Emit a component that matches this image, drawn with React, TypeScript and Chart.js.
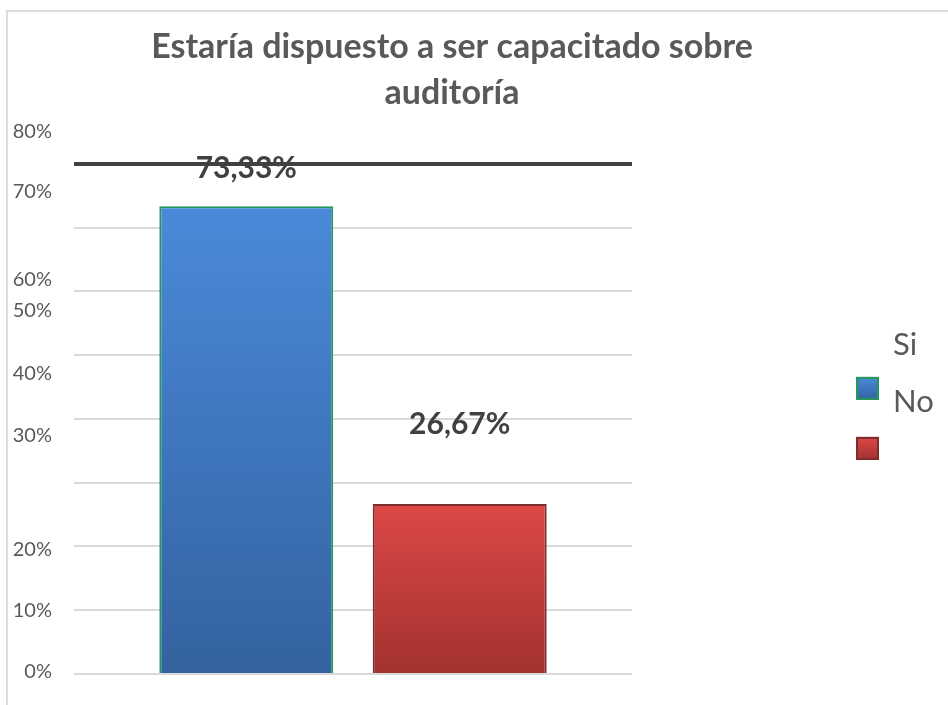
import React, { useEffect, useRef } from "react";
import { Chart, registerables } from "chart.js";

Chart.register(...registerables);

// ---- data ----
const CATEGORIES = [""];
const SERIES_LABELS = ["Si", "No"];
const SERIES_VALUES = [73.33, 26.67];
const Y_MIN = 0;
const Y_MAX = 80;
const Y_STEP = 10;
const TITLE_LINES = ["Estaría dispuesto a ser capacitado sobre", "auditoría"];

// ---- styles ----
const FONT = "Lato, 'Open Sans', sans-serif";
const SERIES_COLORS = [
  { top: "#4a8ad9", bottom: "#3462a0", border: "#24985a" },
  { top: "#dc4846", bottom: "#a2322f", border: "#7d2c2a" },
];
const TICK_SHIFTS = [-2, 0, 3, -47, -45, -45, -12, -36, -32];
const LABEL_LIFT = [38, 80];

const fmtPct = (v: number) => v.toFixed(2).replace(".", ",") + "%";

function barGradient(ctx: CanvasRenderingContext2D, top: number, bottom: number, i: number) {
  const c = SERIES_COLORS[i];
  const g = ctx.createLinearGradient(0, top, 0, bottom);
  g.addColorStop(0, c.top);
  g.addColorStop(1, c.bottom);
  return g;
}

const overlayPlugin = {
  id: "overlay",
  afterDraw(chart: any) {
    const ctx: CanvasRenderingContext2D = chart.ctx;
    const area = chart.chartArea;
    const y = chart.scales.y;
    ctx.save();
    // y tick labels
    ctx.font = `20px ${FONT}`;
    ctx.fillStyle = "#595959";
    ctx.textAlign = "right";
    ctx.textBaseline = "middle";
    y.ticks.forEach((t: any, i: number) => {
      ctx.fillText(`${t.value}%`, area.left - 22, y.getPixelForValue(t.value) + (TICK_SHIFTS[i] || 0));
    });
    // data labels
    ctx.font = `bold 30px ${FONT}`;
    ctx.fillStyle = "#404040";
    ctx.textAlign = "center";
    chart.data.datasets.forEach((ds: any, i: number) => {
      const el = chart.getDatasetMeta(i).data[0];
      if (!el) return;
      ctx.fillText(fmtPct(ds.data[0]), el.x, el.y - LABEL_LIFT[i]);
    });
    // legend
    const cy = (area.top + area.bottom) / 2;
    const bx = area.right + 224;
    const tx = area.right + 261;
    chart.data.datasets.forEach((ds: any, i: number) => {
      const by = cy - 42 + 60 * i;
      const size = 23;
      ctx.fillStyle = barGradient(ctx, by, by + size, i);
      ctx.fillRect(bx, by, size, size);
      ctx.lineWidth = 2;
      ctx.strokeStyle = SERIES_COLORS[i].border;
      ctx.strokeRect(bx + 1, by + 1, size - 2, size - 2);
      ctx.font = `31px ${FONT}`;
      ctx.fillStyle = "#595959";
      ctx.textAlign = "left";
      ctx.textBaseline = "middle";
      ctx.fillText(ds.label, tx, cy - 74 + 57 * i);
    });
    ctx.restore();
  },
};

export default function App() {
  const ref = useRef<HTMLCanvasElement>(null);
  useEffect(() => {
    if (!ref.current) return;
    const chart = new Chart(ref.current, {
      type: "bar",
      data: {
        labels: CATEGORIES,
        datasets: SERIES_LABELS.map((label, i) => ({
          label,
          data: [SERIES_VALUES[i]],
          backgroundColor: (c: any) => {
            const ch = c.chart;
            const ys = ch.scales && ch.scales.y;
            if (!ys || !ch.chartArea) return SERIES_COLORS[i].top;
            const top = ys.getPixelForValue(c.raw ?? SERIES_VALUES[i]);
            const bottom = ys.getPixelForValue(0);
            return barGradient(ch.ctx, top, bottom, i);
          },
          borderColor: SERIES_COLORS[i].border,
          borderWidth: 2,
          categoryPercentage: 0.765,
          barPercentage: 0.815,
        })),
      },
      options: {
        animation: false,
        responsive: false,
        layout: { padding: { top: 0, bottom: 31, left: 0, right: 52 } },
        plugins: {
          legend: { display: false },
          tooltip: { enabled: false },
          title: {
            display: true,
            text: TITLE_LINES,
            color: "#595959",
            font: { family: FONT, size: 34, weight: "bold", lineHeight: 1.35 },
            padding: { top: 12, bottom: 48 },
          },
        },
        scales: {
          x: { display: false },
          y: {
            min: Y_MIN,
            max: Y_MAX,
            ticks: { stepSize: Y_STEP, display: false },
            border: { display: false },
            grid: {
              drawTicks: false,
              color: (c: any) => (c.tick && c.tick.value === Y_MAX ? "#404040" : "#d9d9d9"),
              lineWidth: (c: any) => (c.tick && c.tick.value === Y_MAX ? 4 : 2),
            },
            afterFit: (s: any) => {
              s.width = 66;
            },
          },
          yR: {
            position: "right",
            display: true,
            ticks: { display: false },
            grid: { display: false },
            border: { display: false },
            afterFit: (s: any) => {
              s.width = 264;
            },
          },
        },
      },
      plugins: [overlayPlugin],
    } as any);
    return () => chart.destroy();
  }, []);
  return (
    <div
      style={{
        position: "fixed",
        left: 6,
        top: 10,
        width: 942,
        height: 695,
        borderTop: "2px solid #dcdcdc",
        borderLeft: "2px solid #dcdcdc",
        background: "#fff",
        boxSizing: "border-box",
      }}
    >
      <canvas ref={ref} width={940} height={693} style={{ display: "block" }} />
    </div>
  );
}
